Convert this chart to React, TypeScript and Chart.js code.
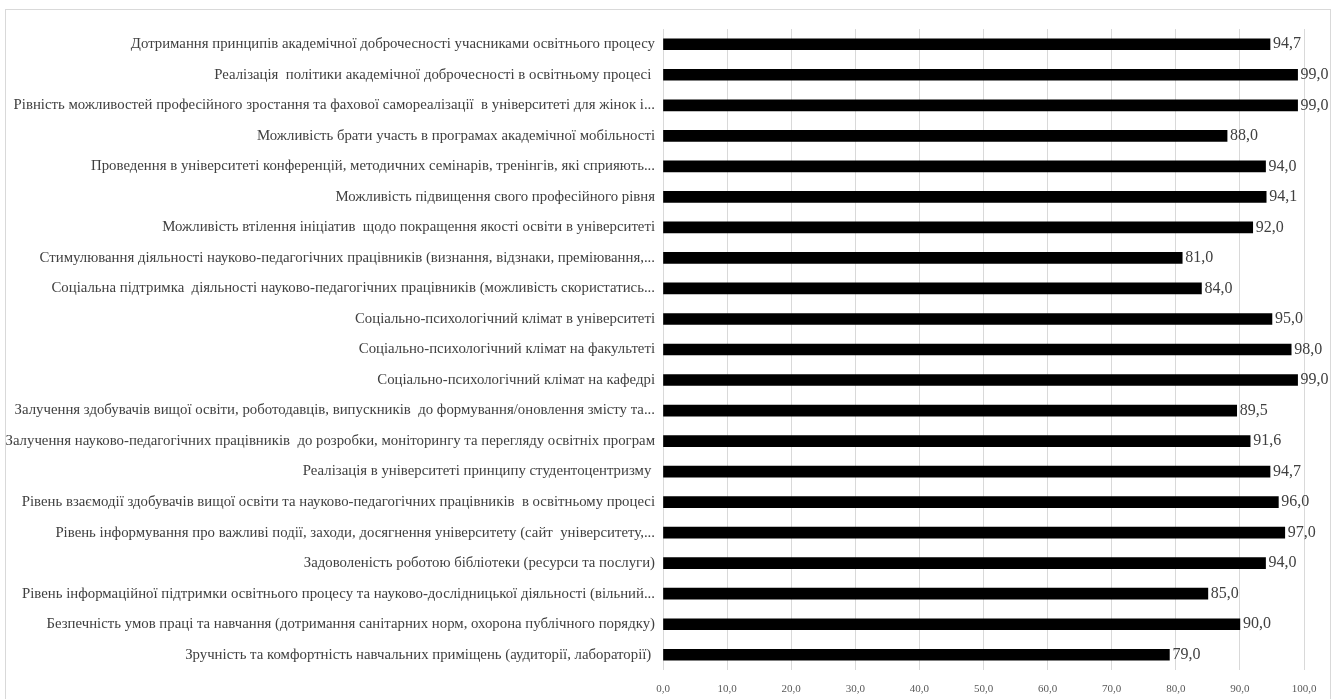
import React, { useEffect, useRef } from "react";
import { Chart, registerables } from "chart.js";

Chart.register(...registerables);

const categories: string[] = [
  "Дотримання принципів академічної доброчесності учасниками освітнього процесу",
  "Реалізація  політики академічної доброчесності в освітньому процесі ",
  "Рівність можливостей професійного зростання та фахової самореалізації  в університеті для жінок і...",
  "Можливість брати участь в програмах академічної мобільності",
  "Проведення в університеті конференцій, методичних семінарів, тренінгів, які сприяють...",
  "Можливість підвищення свого професійного рівня",
  "Можливість втілення ініціатив  щодо покращення якості освіти в університеті",
  "Стимулювання діяльності науково-педагогічних працівників (визнання, відзнаки, преміювання,...",
  "Соціальна підтримка  діяльності науково-педагогічних працівників (можливість скористатись...",
  "Соціально-психологічний клімат в університеті",
  "Соціально-психологічний клімат на факультеті",
  "Соціально-психологічний клімат на кафедрі",
  "Залучення здобувачів вищої освіти, роботодавців, випускників  до формування/оновлення змісту та...",
  "Залучення науково-педагогічних працівників  до розробки, моніторингу та перегляду освітніх програм",
  "Реалізація в університеті принципу студентоцентризму ",
  "Рівень взаємодії здобувачів вищої освіти та науково-педагогічних працівників  в освітньому процесі",
  "Рівень інформування про важливі події, заходи, досягнення університету (сайт  університету,...",
  "Задоволеність роботою бібліотеки (ресурси та послуги)",
  "Рівень інформаційної підтримки освітнього процесу та науково-дослідницької діяльності (вільний...",
  "Безпечність умов праці та навчання (дотримання санітарних норм, охорона публічного порядку)",
  "Зручність та комфортність навчальних приміщень (аудиторії, лабораторії) ",
];

const values: number[] = [
  94.7, 99.0, 99.0, 88.0, 94.0, 94.1, 92.0, 81.0, 84.0, 95.0, 98.0, 99.0,
  89.5, 91.6, 94.7, 96.0, 97.0, 94.0, 85.0, 90.0, 79.0,
];

const xTicks: number[] = [0, 10, 20, 30, 40, 50, 60, 70, 80, 90, 100];

const fmt = (v: number) => v.toFixed(1).replace(".", ",");

const FONT = "'Liberation Serif', 'Times New Roman', serif";

const valueLabels = {
  id: "valueLabels",
  afterDatasetsDraw(chart: any) {
    const ctx = chart.ctx;
    const meta = chart.getDatasetMeta(0);
    ctx.save();
    ctx.font = `16px ${FONT}`;
    ctx.fillStyle = "#404040";
    ctx.textAlign = "left";
    ctx.textBaseline = "middle";
    meta.data.forEach((el: any, i: number) => {
      ctx.fillText(fmt(values[i]), el.x + 3, el.y);
    });
    ctx.restore();
  },
};

export default function App() {
  const ref = useRef<HTMLCanvasElement | null>(null);
  useEffect(() => {
    if (!ref.current) return;
    const chart = new Chart(ref.current, {
      type: "bar",
      data: {
        labels: categories,
        datasets: [
          {
            data: values,
            backgroundColor: "#000000",
            barThickness: 11,
          },
        ],
      },
      options: {
        indexAxis: "y",
        animation: false,
        responsive: true,
        maintainAspectRatio: false,
        layout: { padding: { left: 0, right: 35, top: 29, bottom: 0 } },
        plugins: {
          legend: { display: false },
          tooltip: { enabled: false },
        },
        scales: {
          x: {
            min: 0,
            max: 100,
            afterBuildTicks: (s: any) => {
              s.ticks = xTicks.map((v) => ({ value: v }));
            },
            afterFit: (s: any) => {
              s.height = 29;
            },
            grid: { color: "#d9d9d9", drawTicks: false },
            border: { display: false },
            ticks: {
              padding: 13,
              color: "#595959",
              font: { family: FONT, size: 11 },
              callback: (v: any) => fmt(Number(v)),
            },
          },
          y: {
            afterFit: (s: any) => {
              s.width = 663;
            },
            grid: { display: false, drawTicks: false },
            border: { display: false },
            ticks: {
              padding: 8,
              autoSkip: false,
              color: "#404040",
              font: { family: FONT, size: 14.8 },
            },
          },
        },
      },
      plugins: [valueLabels],
    });
    return () => chart.destroy();
  }, []);

  return (
    <div style={{ position: "fixed", left: 0, top: 0, width: 1339, height: 699, background: "#fff", overflow: "hidden" }}>
      <div
        style={{
          position: "absolute",
          left: 5,
          top: 9,
          width: 1326,
          height: 720,
          border: "1px solid #d9d9d9",
          boxSizing: "border-box",
        }}
      />
      <div style={{ position: "absolute", left: 0, top: 0, width: 1339, height: 699 }}>
        <canvas ref={ref} />
      </div>
    </div>
  );
}
